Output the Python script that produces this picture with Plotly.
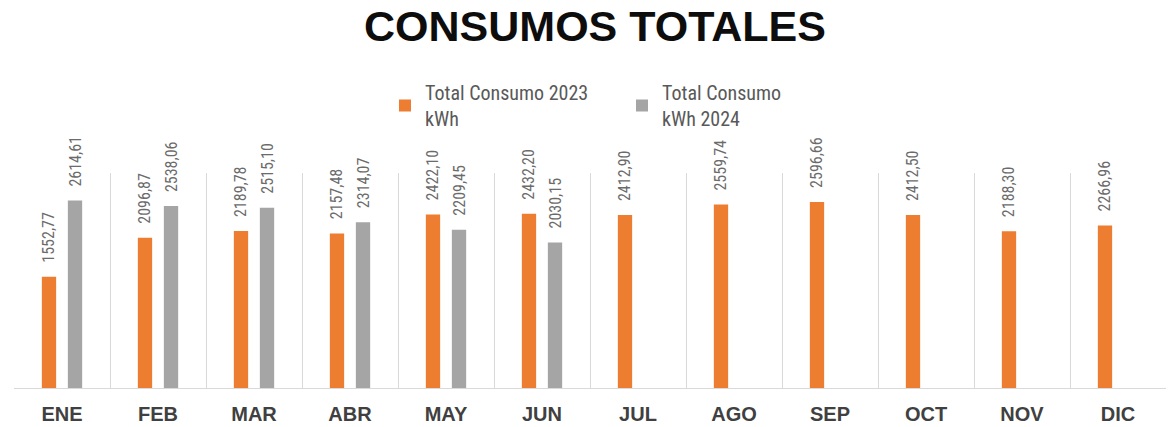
import plotly.graph_objects as go

months = ["ENE", "FEB", "MAR", "ABR", "MAY", "JUN", "JUL", "AGO", "SEP", "OCT", "NOV", "DIC"]
consumo_2023 = [1552.77, 2096.87, 2189.78, 2157.48, 2422.10, 2432.20,
                2412.90, 2559.74, 2596.66, 2412.50, 2188.30, 2266.96]
consumo_2024 = [2614.61, 2538.06, 2515.10, 2314.07, 2209.45, 2030.15,
                None, None, None, None, None, None]

name_2023 = "Total Consumo 2023<br>kWh"
name_2024 = "Total Consumo<br>kWh 2024"

narrow = "Liberation Sans Narrow, Arial Narrow, Roboto Condensed, Liberation Sans, sans-serif"
label_tpl = "\u00a0\u00a0\u00a0%{y:.2f}"

fig = go.Figure()
fig.add_trace(go.Bar(
    x=months, y=consumo_2023, name=name_2023,
    marker=dict(color="#ED7D31", line=dict(width=0)),
    texttemplate=label_tpl, textposition="outside", textangle=-90,
    constraintext="none", cliponaxis=False,
    textfont=dict(family=narrow, size=16, color="#6b6b6b"),
    hoverinfo="x+y",
))
fig.add_trace(go.Bar(
    x=months, y=consumo_2024, name=name_2024,
    marker=dict(color="#A5A5A5", line=dict(width=0)),
    texttemplate=label_tpl, textposition="outside", textangle=-90,
    constraintext="none", cliponaxis=False,
    textfont=dict(family=narrow, size=16, color="#6b6b6b"),
    hoverinfo="x+y",
))

fig.update_layout(
    width=1168, height=427,
    margin=dict(l=14, r=2, t=173, b=39),
    paper_bgcolor="white", plot_bgcolor="white",
    barmode="group", bargap=0.458, bargroupgap=0.45,
    separators=",.",
    title=dict(
        text="CONSUMOS TOTALES",
        font=dict(family="Liberation Sans, Arial, sans-serif", size=43, color="#0d0d0d", weight="bold"),
        x=595 / 1168, xanchor="center", y=1 - 26 / 427, yanchor="middle",
    ),
    legend=dict(
        orientation="h", x=(385 - 14) / 1152, xanchor="left",
        y=(388 - 73) / 215, yanchor="top",
        font=dict(family=narrow, size=20, color="#595959"),
        entrywidth=192, entrywidthmode="pixels",
        bgcolor="rgba(0,0,0,0)",
    ),
    showlegend=True,
)
fig.update_xaxes(
    type="category", tickson="boundaries", showgrid=True,
    gridcolor="#d9d9d9", gridwidth=1,
    showline=True, linecolor="#d9d9d9", linewidth=1,
    ticks="", ticklabelstandoff=8,
    tickfont=dict(family="Liberation Sans, Arial, sans-serif", size=20, color="#404040", weight="bold"),
    range=[-0.5, 11.5],
)
fig.update_yaxes(visible=False, range=[0, 3000], showgrid=False, zeroline=False)

fig.write_html("out.html")
